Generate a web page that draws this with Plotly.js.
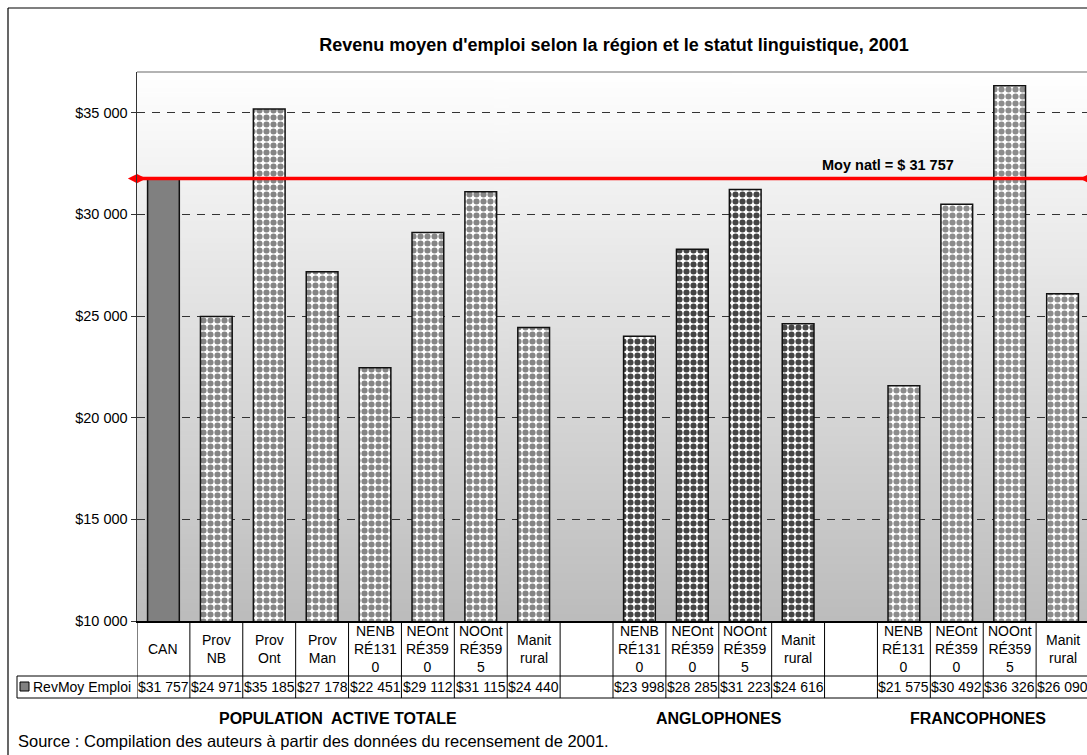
<!DOCTYPE html>
<html>
<head>
<meta charset="utf-8">
<script src="https://cdn.plot.ly/plotly-3.0.1.min.js"></script>
<style>
html, body { margin: 0; padding: 0; overflow: hidden; background: #fff; }
#chart { width: 1100px; height: 755px; }
</style>
</head>
<body>
<div id="chart"></div>
<script>
// ---- Data ----
const chartTitle = "Revenu moyen d'emploi selon la région et le statut linguistique, 2001";
const seriesName = "RevMoy Emploi";
const canLabel = "CAN";
const canValue = 31757;
const totalCats = ["Prov<br>NB", "Prov<br>Ont", "Prov<br>Man", "NENB<br>RÉ131<br>0", "NEOnt<br>RÉ359<br>0", "NOOnt<br>RÉ359<br>5", "Manit<br>rural"];
const totalValues = [24971, 35185, 27178, 22451, 29112, 31115, 24440];
const regionCats = ["NENB<br>RÉ131<br>0", "NEOnt<br>RÉ359<br>0", "NOOnt<br>RÉ359<br>5", "Manit<br>rural"];
const angloValues = [23998, 28285, 31223, 24616];
const francoValues = [21575, 30492, 36326, 26090];
const groupLabels = ["POPULATION  ACTIVE TOTALE", "ANGLOPHONES", "FRANCOPHONES"];
const nationalAverage = 31757;
const averageLabel = "Moy natl = $ 31 757";
const yTickValues = [10000, 15000, 20000, 25000, 30000, 35000];
const yTickLabels = ["$10 000", "$15 000", "$20 000", "$25 000", "$30 000", "$35 000"];
const sourceText = "Source : Compilation des auteurs à partir des données du recensement de 2001.";

// ---- Layout geometry ----
const W = 1100, H = 755;
const M = { l: 137, r: 11, t: 72, b: 134 };
const PW = W - M.l - M.r, PH = H - M.t - M.b;
const px = v => (v - M.l) / PW;             // page x -> paper x
const py = v => (H - M.b - v) / PH;         // page y -> paper y
const FONT = '"Liberation Sans", Arial, sans-serif';

// slot indices
const canX = [0];
const totalX = totalCats.map((_, i) => 1 + i);
const angloX = regionCats.map((_, i) => 9 + i);
const francoX = regionCats.map((_, i) => 14 + i);
const nSlots = 18;

const fmt = v => '$' + String(v).replace(/\B(?=(\d{3})+(?!\d))/g, ' ');

// gradient background for plot area
function gradientURL() {
  const c = document.createElement('canvas');
  c.width = 4; c.height = 256;
  const g = c.getContext('2d');
  const grd = g.createLinearGradient(0, 0, 0, 256);
  grd.addColorStop(0, '#ffffff');
  grd.addColorStop(1, '#bcbcbc');
  g.fillStyle = grd;
  g.fillRect(0, 0, 4, 256);
  return c.toDataURL('image/png');
}

const barLine = { color: '#111', width: 1.5 };
const patt = fg => ({ shape: '.', fgcolor: fg, bgcolor: '#ffffff', size: 7, solidity: 0.6, fillmode: 'replace' });

const traces = [
  { type: 'bar', x: canX, y: [canValue], width: 0.6, marker: { color: '#808080', line: barLine }, hoverinfo: 'y' },
  { type: 'bar', x: totalX, y: totalValues, width: 0.6, marker: { color: '#ffffff', line: barLine, pattern: patt('#858585') }, hoverinfo: 'y' },
  { type: 'bar', x: angloX, y: angloValues, width: 0.6, marker: { color: '#ffffff', line: barLine, pattern: patt('#454545') }, hoverinfo: 'y' },
  { type: 'bar', x: francoX, y: francoValues, width: 0.6, marker: { color: '#ffffff', line: barLine, pattern: patt('#8c8c8c') }, hoverinfo: 'y' },
  { type: 'scatter', mode: 'lines+markers', x: [-0.5, nSlots - 0.5], y: [nationalAverage, nationalAverage],
    line: { color: '#ff0000', width: 3.5 }, marker: { symbol: 'diamond-wide', size: 13, color: '#ff0000' },
    cliponaxis: false, hoverinfo: 'y' }
];

// ---- Table shapes & annotations ----
const shapes = [];
const annotations = [];
const rowTop = py(621), rowMid = py(676), rowBot = py(698);
const lineStyle = { color: '#000', width: 1 };

for (let i = 0; i <= nSlots; i++) {
  shapes.push({ type: 'line', xref: 'x', yref: 'paper', x0: i - 0.5, x1: i - 0.5, y0: rowTop, y1: rowBot, line: lineStyle });
}
shapes.push({ type: 'line', xref: 'paper', yref: 'paper', x0: px(17), x1: 1.02, y0: rowMid, y1: rowMid, line: lineStyle });
shapes.push({ type: 'line', xref: 'paper', yref: 'paper', x0: px(17), x1: 1.02, y0: rowBot, y1: rowBot, line: lineStyle });
shapes.push({ type: 'line', xref: 'paper', yref: 'paper', x0: px(17), x1: px(17), y0: rowMid, y1: rowBot, line: lineStyle });
// legend key square
shapes.push({ type: 'rect', xref: 'paper', yref: 'paper', x0: px(20), x1: px(29), y0: py(682), y1: py(691),
  fillcolor: '#808080', line: { color: '#000', width: 1 } });
// plot area top border
shapes.push({ type: 'line', xref: 'paper', yref: 'paper', x0: 0, x1: 1, y0: 1, y1: 1, line: { color: '#9a9a9a', width: 1.5 } });
// outer frame
shapes.push({ type: 'line', xref: 'paper', yref: 'paper', x0: px(8), x1: 1.02, y0: py(8), y1: py(8), line: { color: '#000', width: 1.2 } });
shapes.push({ type: 'line', xref: 'paper', yref: 'paper', x0: px(8), x1: px(8), y0: py(8), y1: py(760), line: { color: '#000', width: 1.2 } });

const tableFont = { family: FONT, size: 14, color: '#000' };
function addCell(x, cat, val) {
  annotations.push({ xref: 'x', yref: 'paper', x: x, y: py(648.5), text: cat, showarrow: false, font: tableFont, xanchor: 'center', yanchor: 'middle', align: 'center' });
  annotations.push({ xref: 'x', yref: 'paper', x: x, y: py(687), text: fmt(val), showarrow: false, font: tableFont, xanchor: 'center', yanchor: 'middle' });
}
addCell(canX[0], canLabel, canValue);
totalX.forEach((x, i) => addCell(x, totalCats[i], totalValues[i]));
angloX.forEach((x, i) => addCell(x, regionCats[i], angloValues[i]));
francoX.forEach((x, i) => addCell(x, regionCats[i], francoValues[i]));

annotations.push({ xref: 'paper', yref: 'paper', x: px(31), y: py(687), text: seriesName, showarrow: false, font: tableFont, xanchor: 'left', yanchor: 'middle' });

const groupX = [3.3, 10.5, 15.4];
const groupFont = { family: FONT, size: 16, color: '#000', weight: 'bold' };
groupLabels.forEach((g, i) => {
  annotations.push({ xref: 'x', yref: 'paper', x: groupX[i], y: py(718), text: g.replace(/  /g, '&nbsp; '), showarrow: false, font: groupFont, xanchor: 'center', yanchor: 'middle' });
});

annotations.push({ xref: 'paper', yref: 'paper', x: px(16), y: py(741), text: sourceText, showarrow: false,
  font: { family: FONT, size: 16.5, color: '#000' }, xanchor: 'left', yanchor: 'middle' });

annotations.push({ xref: 'x', yref: 'y', x: 13.7, y: nationalAverage, yshift: 14, text: averageLabel, showarrow: false,
  font: { family: FONT, size: 14.5, color: '#000', weight: 'bold' }, xanchor: 'center', yanchor: 'middle' });

const layout = {
  width: W, height: H,
  margin: M,
  paper_bgcolor: '#ffffff',
  plot_bgcolor: 'rgba(0,0,0,0)',
  showlegend: false,
  barmode: 'overlay',
  title: { text: chartTitle, font: { family: FONT, size: 18, color: '#000', weight: 'bold' },
    x: 614 / W, xref: 'container', xanchor: 'center', y: 1 - 45 / H, yref: 'container', yanchor: 'middle' },
  xaxis: { range: [-0.5, nSlots - 0.5], showticklabels: false, showgrid: false, zeroline: false,
    showline: true, linecolor: '#000', linewidth: 1.5, ticks: '', fixedrange: true },
  yaxis: { range: [10000, 37000], tickvals: yTickValues, ticktext: yTickLabels, showgrid: true,
    gridcolor: '#333', gridwidth: 1, griddash: '8px,7px', zeroline: false, showline: true, linecolor: '#333', linewidth: 1.5,
    ticks: 'outside', ticklen: 5, tickcolor: '#333', tickwidth: 1, tickfont: { family: FONT, size: 14.5, color: '#000' }, fixedrange: true },
  images: [{ source: gradientURL(), xref: 'paper', yref: 'paper', x: 0, y: 1, sizex: 1, sizey: 1,
    sizing: 'stretch', xanchor: 'left', yanchor: 'top', layer: 'below' }],
  shapes: shapes,
  annotations: annotations
};

Plotly.newPlot('chart', traces, layout, { displayModeBar: false, staticPlot: true });
</script>
</body>
</html>
